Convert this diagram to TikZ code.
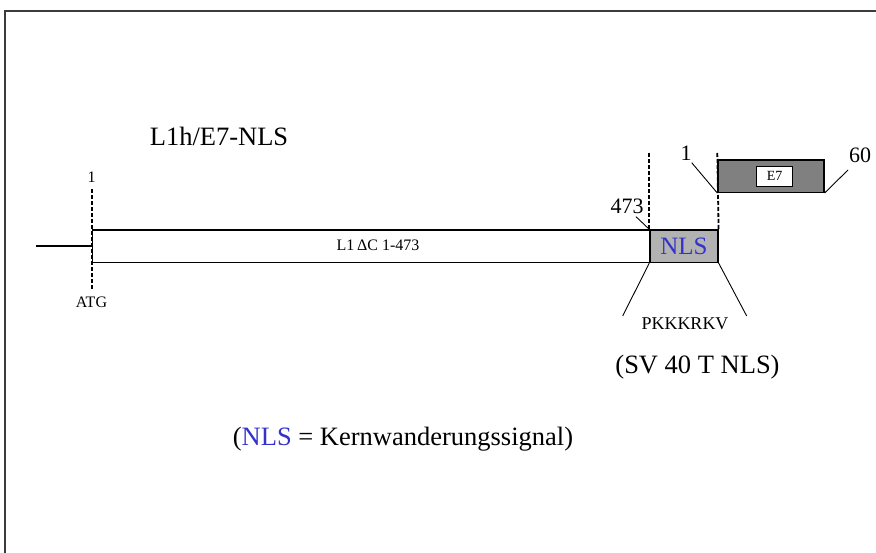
\documentclass[tikz,border=0pt]{standalone}
\usepackage{fontspec}
\setmainfont{Liberation Serif}
\definecolor{nlsgray}{RGB}{178,178,178}
\definecolor{e7gray}{RGB}{128,128,128}
\definecolor{nlsblue}{RGB}{51,51,204}
\definecolor{framegray}{RGB}{60,60,60}
\tikzset{
  boxline/.style={draw=black, line width=1.3pt},
  dashline/.style={draw=black, line width=1.8pt, dash pattern=on 4pt off 2pt},
  thinline/.style={draw=black, line width=0.9pt},
  smalltext/.style={inner sep=0pt, font=\fontsize{16}{18}\selectfont},
  midtext/.style={inner sep=0pt, font=\fontsize{22}{25}\selectfont},
  bigtext/.style={inner sep=0pt, font=\fontsize{26.5}{30}\selectfont},
}
\begin{document}
\begin{tikzpicture}[x=1pt,y=-1pt]
\useasboundingbox (0,0) rectangle (876,553);
% frame (top and left borders)
\draw[framegray, line width=1.2pt] (5,553) -- (5,11) -- (876,11);

% title
\node[bigtext] (title) at (219,136) {L1h/E7-NLS};

% main bar
\node[boxline, fill=white, minimum width=557.6pt, minimum height=32.4pt, anchor=north west, inner sep=0pt] (bar) at (91.7,229.3) {};
\node[smalltext] (barlabel) at (378,245.5) {L1\,ΔC 1-473};
\coordinate (lead) at ([xshift=-56pt]bar.west);
\draw[boxline] (lead) -- (bar.west);

% NLS box
\node[boxline, fill=nlsgray, minimum width=68pt, minimum height=32.4pt, anchor=north west, inner sep=0pt, text=nlsblue, font=\fontsize{25}{28}\selectfont] (nls) at (649.3,229.3) {NLS};

% E7 bar
\node[boxline, fill=e7gray, minimum width=106pt, minimum height=32.4pt, anchor=north west, inner sep=0pt] (e7bar) at (717.3,159.3) {};
\node[draw=black, line width=0.8pt, fill=white, minimum width=36pt, minimum height=20.7pt, inner sep=0pt, font=\fontsize{14}{16}\selectfont] (e7box) at (774.7,176.3) {E7};

% dashed lines
\coordinate (atgtop) at (91.7,189);
\coordinate (atgbot) at (91.7,290);
\draw[dashline] (atgtop) -- (atgbot);
\coordinate (d1top) at (649.3,153);
\coordinate (d2top) at (717.3,153);
\draw[dashline] (d1top) -- (nls.north west);
\draw[dashline] (d2top) -- (nls.north east);

% ATG labels
\node[smalltext] (one) at (91.5,177) {1};
\node[smalltext] (atg) at (91.5,302) {ATG};

% numbers
\node[midtext] (n473) at (627,206) {473};
\coordinate (c473) at (636,216.7);
\draw[thinline] (c473) -- (nls.north west);

\node[midtext] (n1) at (686,153) {1};
\coordinate (c1) at (691.7,162.7);
\draw[thinline] (c1) -- (e7bar.south west);

\node[midtext] (n60) at (860,155) {60};
\coordinate (c60) at (848,170);
\draw[thinline] (e7bar.south east) -- (c60);

% NLS sequence lines
\coordinate (sl) at (622.7,316);
\coordinate (sr) at (746.7,316);
\draw[thinline] (nls.south west) -- (sl);
\draw[thinline] (nls.south east) -- (sr);
\node[inner sep=0pt, font=\fontsize{18}{20}\selectfont] (seq) at (685,324) {PKKKRKV};

\node[bigtext] (sv40) at (697.5,367) {(SV 40 T NLS)};
\node[bigtext] (legend) at (403,439) {(\textcolor{nlsblue}{NLS} = Kernwanderungssignal)};
\end{tikzpicture}
\end{document}
